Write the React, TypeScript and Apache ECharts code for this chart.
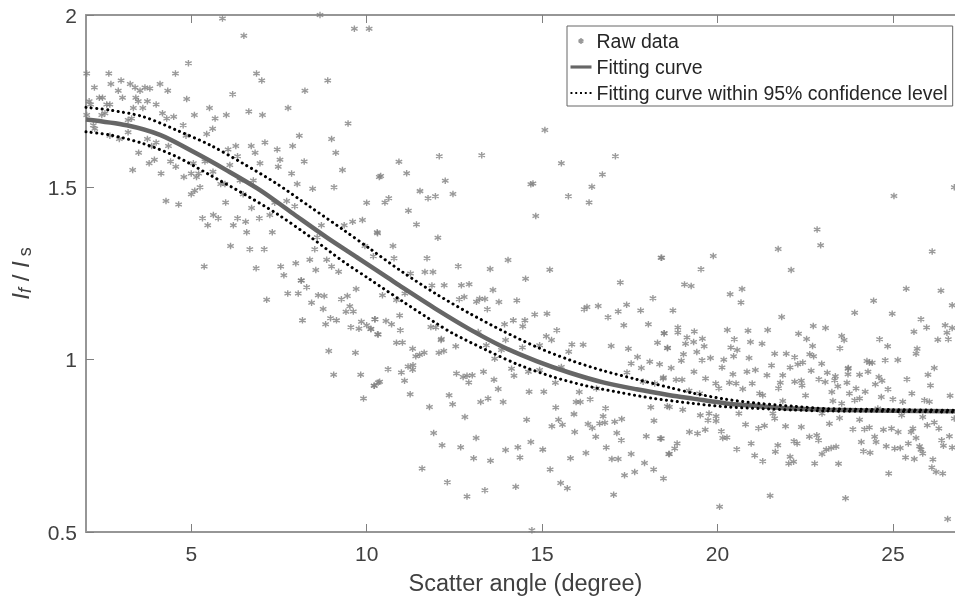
import React, { useEffect, useRef } from "react";
import * as echarts from "echarts";

const xTicks = [5, 10, 15, 20, 25];
const legendNames = ["Raw data", "Fitting curve", "Fitting curve within 95% confidence level"];

const fitCurve: number[][] = [
  [2, 1.697], [3.16, 1.68], [4.11, 1.652], [5.06, 1.603], [6.0, 1.55], [6.96, 1.492], [7.9, 1.424], [8.86, 1.355],
  [9.8, 1.292], [10.6, 1.238], [11.04, 1.208], [11.99, 1.146], [12.94, 1.088], [13.89, 1.037], [14.84, 0.996],
  [15.79, 0.962], [16.74, 0.934], [17.69, 0.914], [18.64, 0.897], [19.3, 0.887], [20.25, 0.873], [21.2, 0.865],
  [22.15, 0.858], [23.1, 0.855], [24.05, 0.853], [25.0, 0.852], [26.77, 0.85],
];
const upperCurve: number[][] = [
  [2, 1.732], [2.68, 1.724], [3.63, 1.705], [4.58, 1.666], [5.53, 1.623], [6.48, 1.569], [7.43, 1.511], [8.38, 1.444],
  [9.33, 1.377], [10.09, 1.322], [11.04, 1.253], [11.99, 1.19], [12.94, 1.134], [13.89, 1.083], [14.84, 1.037],
  [15.79, 0.999], [16.74, 0.968], [17.69, 0.943], [18.64, 0.919], [19.3, 0.903], [20.25, 0.885], [21.2, 0.873],
  [22.15, 0.865], [23.1, 0.858], [25, 0.855], [26.77, 0.853],
];
const lowerCurve: number[][] = [
  [2, 1.661], [2.68, 1.652], [3.63, 1.627], [4.58, 1.589], [5.53, 1.536], [6.48, 1.482], [7.43, 1.424], [8.38, 1.357],
  [9.33, 1.285], [10.09, 1.233], [11.04, 1.168], [11.99, 1.105], [12.46, 1.076], [13.41, 1.028], [14.36, 0.984],
  [15.31, 0.95], [16.26, 0.924], [17.21, 0.905], [18.16, 0.888], [19.3, 0.873], [20.25, 0.863], [21.2, 0.858],
  [22.15, 0.854], [23.1, 0.851], [25, 0.85], [26.77, 0.848],
];

const rawLeftTop: number[][] = [
  [2.02,1.83],[2.65,1.83],[2.24,1.79],[2.71,1.8],[3.0,1.81],[3.26,1.8],[3.4,1.79],[2.92,1.78],[3.54,1.78],[3.68,1.79],[3.82,1.787],
  [4.11,1.8],[4.33,1.78],[4.55,1.83],[4.92,1.86],[3.04,1.76],[3.42,1.76],[3.49,1.75],[3.75,1.75],[4.0,1.74],[4.87,1.756],[2.38,1.76],
  [2.47,1.76],[2.09,1.75],[2.13,1.74],[2.68,1.74],[2.59,1.74],[2.02,1.71],[2.45,1.71],[2.54,1.715],[3.35,1.73],[3.62,1.73],[4.18,1.715],
  [4.3,1.7],[4.5,1.705],[5.09,1.71],[5.52,1.73],[5.68,1.7],[6.0,1.71],[6.18,1.77],[6.64,1.72],[7.03,1.71],[6.86,1.83],[7.01,1.81],
  [8.24,1.78],[8.89,1.81],[7.76,1.73],[9.47,1.685],[5.89,1.99],[6.5,1.94],[8.67,2.0],[9.65,1.96],[10.07,1.96],[4.77,1.68],[5.61,1.67],
  [5.44,1.655],[3.2,1.695],[3.3,1.7],[2.21,1.68],[2.25,1.67],[2.68,1.65],[2.95,1.64],[3.2,1.66],[3.5,1.6],[3.75,1.64],[3.87,1.62],
  [4.0,1.63],[3.33,1.55],[3.8,1.57],[3.95,1.58],[4.14,1.54],[4.41,1.575],[4.56,1.56],[4.79,1.53],[4.35,1.62],[4.85,1.65],[5.0,1.54],
  [5.15,1.53],[5.21,1.54],[5.0,1.48],[5.1,1.49],[5.25,1.5],[4.28,1.46],[4.64,1.45],[5.98,1.456],[5.32,1.41],[5.47,1.39],[5.63,1.42],
  [5.77,1.41],[6.32,1.41],[6.2,1.39],[6.55,1.4],[6.58,1.37],[6.94,1.41],[6.72,1.44],[7.31,1.37],[6.12,1.33],[6.67,1.32],[7.08,1.32],
  [5.37,1.27],[6.85,1.265],[7.55,1.27],[7.64,1.245],[7.98,1.28],[8.38,1.29],[8.55,1.26],[8.86,1.29],[9.0,1.27],[9.2,1.255],[8.14,1.23],
  [5.84,1.51],[5.96,1.51],[5.62,1.545],[6.05,1.61],[6.27,1.62],[6.71,1.62],[6.82,1.6],[6.32,1.59],[6.96,1.57],[7.1,1.63],[7.45,1.61],
  [7.53,1.58],[7.48,1.56],[7.89,1.62],[8.08,1.65],[8.22,1.575],[7.86,1.54],[8.02,1.51],[8.46,1.496],[9.07,1.5],[9.0,1.64],[9.12,1.6],
  [9.31,1.55],[10.36,1.53],[10.0,1.455],[9.6,1.4],[9.88,1.405],[9.36,1.39],[10.3,1.37],[8.71,1.39],[8.59,1.355],[8.52,1.32],[7.72,1.46],
  [7.95,1.445],[7.38,1.455],[6.48,1.48],[6.39,1.52],[7.24,1.42],[9.95,1.33],[10.19,1.3],[5.06,1.57],[5.39,1.575],[6.1,1.565],[6.77,1.52],
];
const rawLeftBottom: number[][] = [
  [7.15,1.174],[7.75,1.192],[8.05,1.192],[8.13,1.23],[8.29,1.21],[8.62,1.187],[8.79,1.185],[8.43,1.165],[8.76,1.147],[8.17,1.114],
  [8.83,1.103],[8.97,1.12],[9.14,1.114],[9.28,1.175],[9.45,1.185],[9.7,1.205],[9.52,1.155],[9.41,1.139],[9.62,1.14],[9.55,1.094],
  [9.78,1.09],[9.85,1.11],[10.0,1.1],[10.12,1.089],[10.23,1.117],[10.31,1.074],[8.92,1.025],[9.68,1.02],[9.06,0.956],[9.83,0.956],
  [10.21,0.924],[10.33,0.934],[9.91,0.887],
];
const rawMiddleTop: number[][] = [
  [15.08,1.666],[12.07,1.59],[13.28,1.593],[17.09,1.59],[10.92,1.574],[15.55,1.57],[10.4,1.533],[11.14,1.541],[16.72,1.537],[12.24,1.519],
  [14.74,1.511],[14.68,1.509],[16.42,1.502],[11.52,1.489],[12.46,1.481],[11.96,1.474],[11.75,1.468],[10.63,1.468],[10.52,1.456],[15.75,1.474],
  [16.34,1.456],[11.19,1.432],[14.82,1.417],[11.42,1.392],[10.31,1.367],[12.03,1.354],[10.75,1.33],[10.78,1.294],[11.72,1.294],[14.03,1.289],
  [12.61,1.271],[13.52,1.263],[15.22,1.261],[11.25,1.25],[11.66,1.254],[11.89,1.254],[14.53,1.235],[17.23,1.224],[18.39,1.296],[12.21,1.216],
  [11.86,1.215],[12.7,1.216],[12.92,1.219],[13.6,1.202],[10.45,1.187],[11.09,1.192],[18.16,1.178],[12.78,1.182],[12.64,1.175],[13.22,1.177],
  [13.37,1.176],[13.13,1.168],[13.77,1.167],[14.28,1.172],[13.44,1.146],[16.2,1.146],[16.28,1.153],[16.6,1.156],[17.41,1.159],[17.17,1.14],
  [17.81,1.143],[16.88,1.123],[14.79,1.131],[15.14,1.133],[14.18,1.114],[14.51,1.114],[14.45,1.097],[13.93,1.103],[17.33,1.1],[18.03,1.103],
  [15.42,1.085],[18.48,1.077],[15.12,1.068],[10.94,1.128],[10.24,1.117],[10.55,1.112],[10.71,1.103],[10.96,1.085],[10.33,1.073],[10.12,1.089],
  [11.83,1.095],[11.97,1.093],[10.85,1.173],[12.13,1.06],[13.18,1.08],
];
const rawMiddleBottom: number[][] = [
  [10.85,1.049],[11.02,1.05],[11.31,1.032],[12.12,1.057],[12.54,1.039],[11.4,1.01],[11.51,1.014],[11.64,1.02],[12.06,1.02],[12.2,1.025],
  [10.61,0.972],[10.99,0.963],[11.18,0.98],[11.32,0.984],[11.31,0.971],[10.22,0.924],[10.37,0.936],[11.08,0.939],[11.24,0.9],[12.56,0.96],
  [12.75,0.95],[12.86,0.953],[13.01,0.955],[12.91,0.934],[13.33,0.965],[13.63,0.942],[13.75,0.915],[12.35,0.897],[12.45,0.871],[13.25,0.877],
  [13.46,0.887],[13.89,0.877],[11.79,0.863],[12.8,0.834],[14.56,0.826],[11.91,0.787],[13.12,0.773],[12.15,0.752],[12.68,0.746],[13.05,0.714],
  [13.53,0.707],[13.96,0.738],[14.31,0.746],[14.37,0.716],[14.68,0.761],[15.02,0.739],[11.58,0.684],[12.3,0.644],[13.37,0.621],[12.86,0.603],
  [14.25,0.631],[14.71,0.505],[15.23,0.681],[15.53,0.642],[15.72,0.627],[15.81,0.714],[16.25,0.729],[16.83,0.745],[16.99,0.712],[17.17,0.712],
  [17.54,0.726],[17.92,0.7],[17.35,0.665],[17.64,0.674],[18.18,0.681],[18.46,0.655],[17.04,0.608],[15.93,0.79],[16.53,0.776],[17.13,0.787],
  [17.26,0.766],[17.97,0.778],[18.37,0.771],[18.61,0.726],[15.28,0.807],[15.58,0.811],[15.47,0.826],[15.91,0.842],[16.31,0.813],[16.43,0.802],
  [16.64,0.815],[16.79,0.817],[16.74,0.836],[17.07,0.82],[17.27,0.828],[18.19,0.823],[16.81,0.859],[18.1,0.862],[18.57,0.865],[15.39,0.861],
  [15.97,0.877],[16.09,0.877],[16.37,0.885],[16.06,0.906],[14.63,0.907],[15.05,0.907],[15.38,0.933],[14.2,0.953],[14.13,0.974],[14.61,0.965],
  [13.65,1.003],[13.84,1.028],[13.41,1.042],[13.96,1.057],[14.44,1.035],[14.93,1.042],[15.27,1.057],[15.76,1.023],[15.85,1.044],[16.17,1.043],
  [16.97,1.04],[17.46,1.032],[17.72,1.008],[17.54,0.989],[17.83,0.976],[18.07,0.994],[18.35,0.987],[17.42,0.963],[18.29,1.049],[18.57,1.034],
  [18.45,0.945],[17.88,0.936],[18.21,0.931],[15.55,0.979],[14.93,0.97],[16.55,0.916],
];
const rawRightTop: number[][] = [
  [25.03,1.475],[26.75,1.5],[22.84,1.378],[22.94,1.332],[21.73,1.321],[26.12,1.314],[18.41,1.296],[19.88,1.301],[19.53,1.262],[22.1,1.26],
  [19.06,1.218],[19.25,1.214],[20.7,1.205],[20.36,1.19],[25.38,1.206],[26.37,1.2],[20.67,1.166],[24.45,1.171],[18.73,1.143],[26.69,1.158],
  [23.91,1.136],[24.98,1.133],[21.83,1.124],[25.8,1.117],[22.73,1.098],[23.08,1.092],[25.96,1.093],[26.49,1.1],[26.69,1.092],[18.48,1.077],
  [18.87,1.093],[18.87,1.079],[19.34,1.082],[20.28,1.086],[20.87,1.084],[21.43,1.086],[22.31,1.075],[25.6,1.081],[26.54,1.078],[23.54,1.069],
  [22.54,1.06],[19.13,1.064],[19.57,1.061],[20.48,1.059],[24.62,1.059],[26.28,1.058],[26.58,1.059],[23.61,1.057],[19.32,1.051],[19.09,1.046],
  [20.94,1.051],[21.27,1.046],[22.71,1.04],[24.85,1.039],[19.62,1.039],[18.58,1.034],[20.38,1.035],[20.56,1.028],[23.49,1.033],[25.69,1.032],
  [19.41,1.022],[19.03,1.016],[21.63,1.017],[21.96,1.017],[22.63,1.016],[25.66,1.017],[20.46,1.01],[22.2,1.007],[22.74,1.01],[19.8,1.005],
  [20.9,1.005],[19.56,0.998],[20.18,1.0],[18.97,0.997],[22.43,0.992],[22.29,0.987],[22.97,0.988],[24.26,0.996],[24.41,0.991],[24.78,0.998],
  [25.14,0.999],[21.54,0.983],[20.13,0.977],[18.68,0.976],[22.07,0.977],[23.73,0.976],[26.18,0.976],
];
const rawRightBottom: number[][] = [
  [18.46,0.948],[19.33,0.965],[20.44,0.958],[20.84,0.965],[21.08,0.97],[21.41,0.955],[21.86,0.955],[21.79,0.933],[22.67,0.968],[23.13,0.962],
  [23.36,0.952],[23.72,0.974],[23.72,0.958],[24.05,0.956],[24.29,0.965],[24.33,0.991],[26.0,0.956],[25.4,0.943],[26.07,0.925],[24.6,0.95],
  [24.69,0.939],[24.5,0.929],[24.86,0.914],[25.54,0.902],[26.63,0.895],[25.9,0.882],[26.04,0.878],[25.0,0.885],[24.67,0.892],[24.21,0.907],
  [23.95,0.916],[23.76,0.902],[24.05,0.887],[23.91,0.882],[23.43,0.923],[23.26,0.906],[23.29,0.88],[23.69,0.933],[22.89,0.943],[23.07,0.935],
  [23.34,0.94],[22.39,0.939],[22.2,0.936],[22.41,0.925],[22.51,0.896],[21.74,0.917],[20.99,0.931],[20.72,0.915],[20.53,0.931],[20.34,0.933],
  [19.95,0.931],[20.04,0.917],[19.66,0.945],[18.82,0.942],[18.99,0.942],[19.19,0.91],[19.49,0.902],[21.2,0.902],[21.29,0.897],[21.86,0.88],
  [25.28,0.878],[23.54,0.873],[18.63,0.863],[19.01,0.855],[19.51,0.839],[19.76,0.844],[19.73,0.824],[19.96,0.836],[19.96,0.822],[20.61,0.844],
  [21.58,0.844],[21.63,0.829],[22.98,0.844],[23.48,0.831],[24.05,0.826],[24.57,0.858],[25.25,0.839],[25.85,0.834],[26.75,0.829],[20.8,0.812],
  [21.17,0.801],[21.34,0.808],[21.94,0.807],[22.39,0.805],[23.19,0.814],[23.86,0.798],[24.19,0.798],[24.33,0.803],[24.73,0.797],[24.96,0.8],
  [25.15,0.79],[25.98,0.81],[26.18,0.818],[26.31,0.8],[25.52,0.79],[25.57,0.8],[19.2,0.79],[19.43,0.786],[19.65,0.797],[20.11,0.792],
  [20.15,0.773],[20.27,0.774],[18.4,0.771],[22.62,0.776],[22.83,0.781],[22.88,0.766],[24.48,0.776],[24.52,0.761],[25.66,0.773],[26.61,0.778],
  [26.39,0.766],[22.18,0.763],[22.27,0.757],[24.1,0.761],[25.44,0.757],[20.96,0.757],[26.44,0.75],[21.72,0.752],[18.85,0.757],[18.78,0.742],
  [24.81,0.749],[25.05,0.742],[25.21,0.744],[25.76,0.749],[25.8,0.739],[26.69,0.745],[21.65,0.733],[20.55,0.74],[23.38,0.747],[23.24,0.744],
  [23.1,0.739],[22.98,0.726],[24.16,0.734],[24.35,0.73],[18.63,0.726],[25.85,0.728],[21.06,0.722],[22.07,0.718],[25.36,0.716],[25.61,0.712],
  [26.14,0.71],[21.29,0.705],[22.03,0.699],[22.17,0.704],[22.77,0.699],[23.45,0.698],[26.11,0.687],[26.23,0.674],[26.42,0.67],[24.88,0.67],
  [21.5,0.605],[23.65,0.598],[20.06,0.573],[26.56,0.538],
];
const rawData = [...rawLeftTop, ...rawLeftBottom, ...rawMiddleTop, ...rawMiddleBottom, ...rawRightTop, ...rawRightBottom];

const asterisk = "path://M0 -5L0 5M-4.3 -2.5L4.3 2.5M-4.3 2.5L4.3 -2.5";
const legendAsterisk = "path://M0 0M22 10M11 2M11 8M8.5 3.5L13.5 6.5M8.5 6.5L13.5 3.5M11 2L11 8";
const legendSolid = "path://M0 0M22 10M0 3.2H24V6.8H0Z";
const legendDots = "path://M0 0M22 10M0 4H2V6H0ZM5 4H7V6H5ZM10 4H12V6H10ZM15 4H17V6H15ZM20 4H22V6H20Z";
const axisGray = "#969696";
const textGray = "#404040";
const fontFamily = "'Liberation Sans', Arial, sans-serif";

export default function App() {
  const ref = useRef<HTMLDivElement>(null);
  useEffect(() => {
    document.body.style.margin = "0";
    const chart = echarts.init(ref.current!, undefined, { renderer: "svg" });
    const sharedX = { type: "value", min: 2, max: 26.77, splitLine: { show: false } };
    const sharedY = { type: "value", min: 0.5, max: 2, interval: 0.5, splitLine: { show: false } };
    const axisLine = { show: true, onZero: false, lineStyle: { color: axisGray, width: 2 } };
    const axisTick = { show: true, inside: true, length: 8, lineStyle: { color: "#808080", width: 1 } };
    chart.setOption({
      animation: false,
      backgroundColor: "#ffffff",
      textStyle: { fontFamily },
      grid: { left: 86, right: 0, top: 15, bottom: 66, containLabel: false, outerBoundsMode: "none" },
      legend: {
        orient: "vertical",
        left: 567,
        top: 26,
        padding: [5, 5, 3, 1],
        itemGap: 6,
        itemWidth: 21,
        itemHeight: 10,
        selectedMode: false,
        backgroundColor: "#ffffff",
        borderColor: "#666666",
        borderWidth: 1,
        data: [
          { name: legendNames[0], icon: legendAsterisk },
          { name: legendNames[1], icon: legendSolid },
          { name: legendNames[2], icon: legendDots },
        ],
        textStyle: { fontFamily, fontSize: 19.5, color: "#262626", lineHeight: 20 },
      },
      xAxis: [
        {
          ...sharedX,
          position: "bottom",
          name: "Scatter angle (degree)",
          nameLocation: "middle",
          nameGap: 39,
          nameTextStyle: { fontFamily, fontSize: 23.5, color: textGray, padding: [0, 0, 0, 10] },
          axisLine,
          axisTick: { ...axisTick, customValues: xTicks },
          axisLabel: { customValues: xTicks, fontFamily, fontSize: 21, color: textGray, margin: 11 },
        },
        {
          ...sharedX,
          position: "top",
          axisLine,
          axisTick: { ...axisTick, customValues: xTicks },
          axisLabel: { show: false },
        },
      ],
      yAxis: [
        {
          ...sharedY,
          position: "left",
          name: "{i|I}{sub|f}{n| / }{i|I}{subn| s}",
          nameLocation: "middle",
          nameGap: 52,
          nameRotate: 90,
          nameTextStyle: {
            color: textGray,
            rich: {
              i: { fontFamily, fontSize: 24, fontStyle: "italic", color: textGray },
              sub: { fontFamily, fontSize: 18, fontStyle: "italic", color: textGray, verticalAlign: "bottom", padding: [10, 0, 0, 0] },
              subn: { fontFamily, fontSize: 18, color: textGray, verticalAlign: "bottom", padding: [10, 0, 0, 0] },
              n: { fontFamily, fontSize: 24, color: textGray },
            },
          },
          axisLine,
          axisTick,
          axisLabel: { fontFamily, fontSize: 21, color: textGray, margin: 9 },
        },
      ],
      series: [
        {
          name: legendNames[0],
          type: "scatter",
          data: rawData,
          symbol: asterisk,
          symbolSize: 6.5,
          clip: false,
          itemStyle: { color: "none", borderColor: "#808080", borderWidth: 1.4 },
          z: 2,
        },
        {
          name: legendNames[1],
          type: "line",
          data: fitCurve,
          smooth: 0.3,
          symbol: "none",
          itemStyle: { color: "#666666" },
          lineStyle: { color: "#666666", width: 4.5 },
          z: 3,
        },
        {
          name: legendNames[2],
          type: "line",
          data: upperCurve,
          smooth: 0.3,
          symbol: "none",
          itemStyle: { color: "#000000" },
          lineStyle: { color: "#000000", width: 3, type: [0.1, 5.3], cap: "round" },
          z: 4,
        },
        {
          name: "Lower confidence bound",
          type: "line",
          data: lowerCurve,
          smooth: 0.3,
          symbol: "none",
          itemStyle: { color: "#000000" },
          lineStyle: { color: "#000000", width: 3, type: [0.1, 5.3], cap: "round" },
          z: 4,
        },
      ],
    });
    return () => chart.dispose();
  }, []);
  return <div ref={ref} style={{ position: "absolute", left: 0, top: 0, width: 955, height: 598, filter: "blur(0.5px)" }} />;
}
